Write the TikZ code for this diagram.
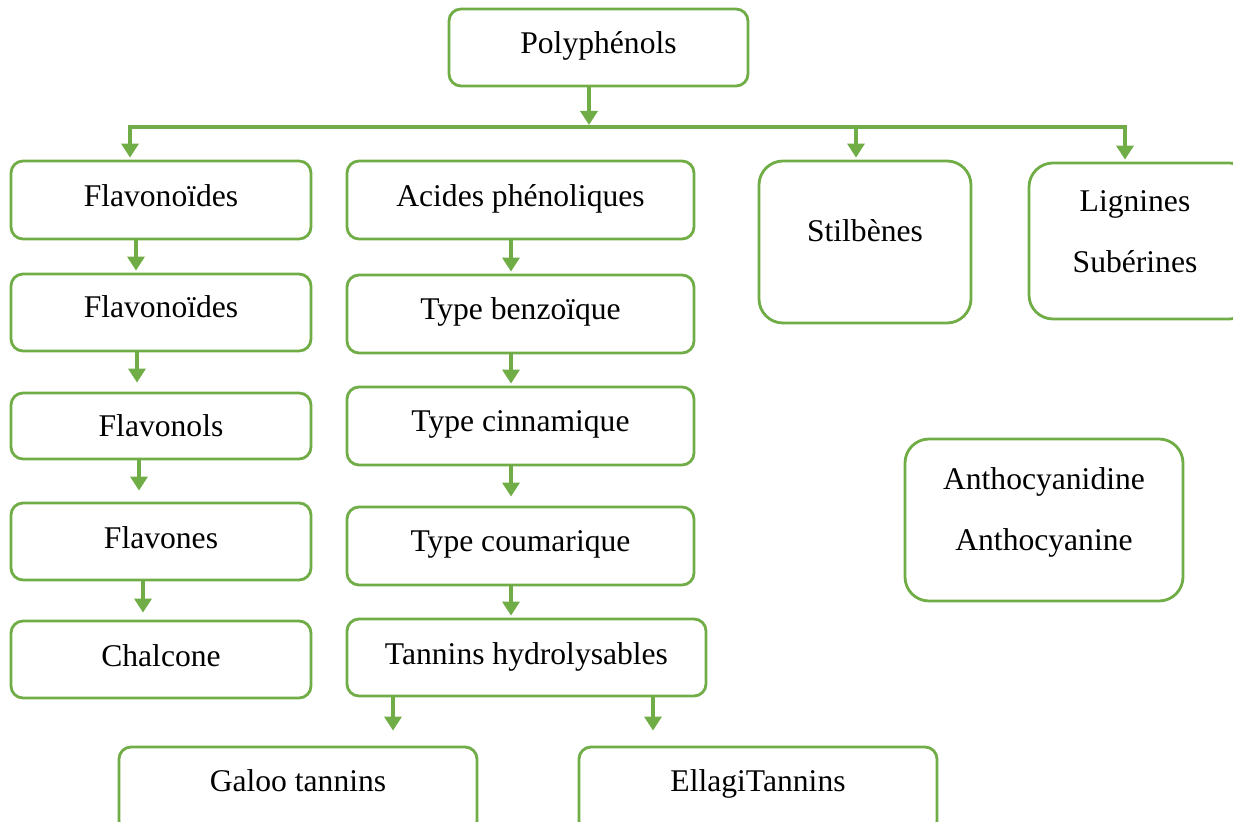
\documentclass[tikz,border=0pt]{standalone}
\usepackage{fontspec}
\setmainfont{Liberation Serif}
\usetikzlibrary{arrows.meta}
\definecolor{grn}{HTML}{70AD47}
\newcommand\bxfont{\fontsize{15.8}{30.5}\selectfont}
\newcommand\up[2]{\raisebox{#1}[\height][\depth]{#2}}
\newcommand\twol[2]{\begin{tabular}{@{}c@{}}#1\\#2\end{tabular}}
\tikzset{
  box/.style={draw=grn, line width=1.4pt, rounded corners=6pt, inner sep=0pt, font=\bxfont, text=black},
  bigbox/.style={box, rounded corners=12pt},
  arr/.style={draw=grn, line width=1.7pt, -{Triangle[length=7pt,width=8.5pt]}, shorten >=1pt},
  busline/.style={draw=grn, line width=2.2pt}
}
\begin{document}
\begin{tikzpicture}[x=0.5pt,y=-0.5pt]
\useasboundingbox (0,0) rectangle (1233,822);
\clip (0,0) rectangle (1233,822);
% nodes
\node[box, minimum width=149.5pt, minimum height=38.5pt] (poly) at (598.5,47.5) {\up{1pt}{Polyphénols}};
\node[box, minimum width=150pt, minimum height=39pt] (f1) at (161,200) {\up{2pt}{Flavonoïdes}};
\node[box, minimum width=150pt, minimum height=38.5pt] (f2) at (161,312.5) {\up{3pt}{Flavonoïdes}};
\node[box, minimum width=150pt, minimum height=33pt] (flvl) at (161,426) {Flavonols};
\node[box, minimum width=150pt, minimum height=38.5pt] (flvs) at (161,541.5) {\up{2pt}{Flavones}};
\node[box, minimum width=150pt, minimum height=38.5pt] (chal) at (161,659.5) {\up{2pt}{Chalcone}};
\node[box, minimum width=173.5pt, minimum height=39pt] (acid) at (520.5,200) {\up{0.5pt}{Acides phénoliques}};
\node[box, minimum width=173.5pt, minimum height=39pt] (benz) at (520.5,314) {\up{1pt}{Type benzoïque}};
\node[box, minimum width=173.5pt, minimum height=39pt] (cinn) at (520.5,426) {\up{1pt}{Type cinnamique}};
\node[box, minimum width=173.5pt, minimum height=39pt] (coum) at (520.5,546) {\up{1pt}{Type coumarique}};
\node[box, minimum width=179.5pt, minimum height=38.5pt] (tann) at (526.5,657.5) {\up{0.5pt}{Tannins hydrolysables}};
\node[box, minimum width=179pt, minimum height=43pt] (galoo) at (298,790) {\up{4.5pt}{Galoo tannins}};
\node[box, minimum width=179pt, minimum height=43pt] (ellagi) at (758,790) {\up{3pt}{EllagiTannins}};
\node[bigbox, minimum width=106pt, minimum height=81pt] (stil) at (865,242) {\up{5.5pt}{Stilbènes}};
\node[bigbox, minimum width=112pt, minimum height=78pt] (lign) at (1141,241) {\hspace*{-6pt}\up{5.8pt}{\twol{Lignines}{Subérines}}};
\node[bigbox, minimum width=139pt, minimum height=81pt] (antho) at (1044,520) {\up{6.1pt}{\twol{Anthocyanidine}{Anthocyanine}}};
% bus
\coordinate (busL) at (130,127);
\coordinate (busR) at (1125,127);
\coordinate (pa) at (589,127);
\coordinate (sx) at (856,127);
\draw[busline] ([xshift=-1pt]busL) -- ([xshift=1pt]busR);
\draw[arr, shorten >=0pt] (poly.south -| pa) -- ([yshift=1pt]pa);
\draw[arr] (busL) -- (f1.north -| busL);
\draw[arr] (sx) -- (stil.north -| sx);
\draw[arr] (busR) -- (lign.north -| busR);
% left column
\coordinate (c1) at (136,0);
\coordinate (c2) at (137,0);
\coordinate (c3) at (139,0);
\coordinate (c4) at (143,0);
\draw[arr] (f1.south -| c1) -- (f2.north -| c1);
\draw[arr] (f2.south -| c2) -- ([yshift=3.5pt]flvl.north -| c2);
\draw[arr] (flvl.south -| c3) -- ([yshift=4.5pt]flvs.north -| c3);
\draw[arr] (flvs.south -| c4) -- ([yshift=2.5pt]chal.north -| c4);
% middle column
\coordinate (m) at (511,0);
\draw[arr] (acid.south -| m) -- (benz.north -| m);
\draw[arr] (benz.south -| m) -- (cinn.north -| m);
\draw[arr] (cinn.south -| m) -- ([yshift=3.5pt]coum.north -| m);
\draw[arr] (coum.south -| m) -- (tann.north -| m);
% tannins
\coordinate (t1) at (393,0);
\coordinate (t2) at (653,0);
\draw[arr, shorten >=7.5pt] (tann.south -| t1) -- (galoo.north -| t1);
\draw[arr, shorten >=7.5pt] (tann.south -| t2) -- (ellagi.north -| t2);
\end{tikzpicture}
\end{document}
